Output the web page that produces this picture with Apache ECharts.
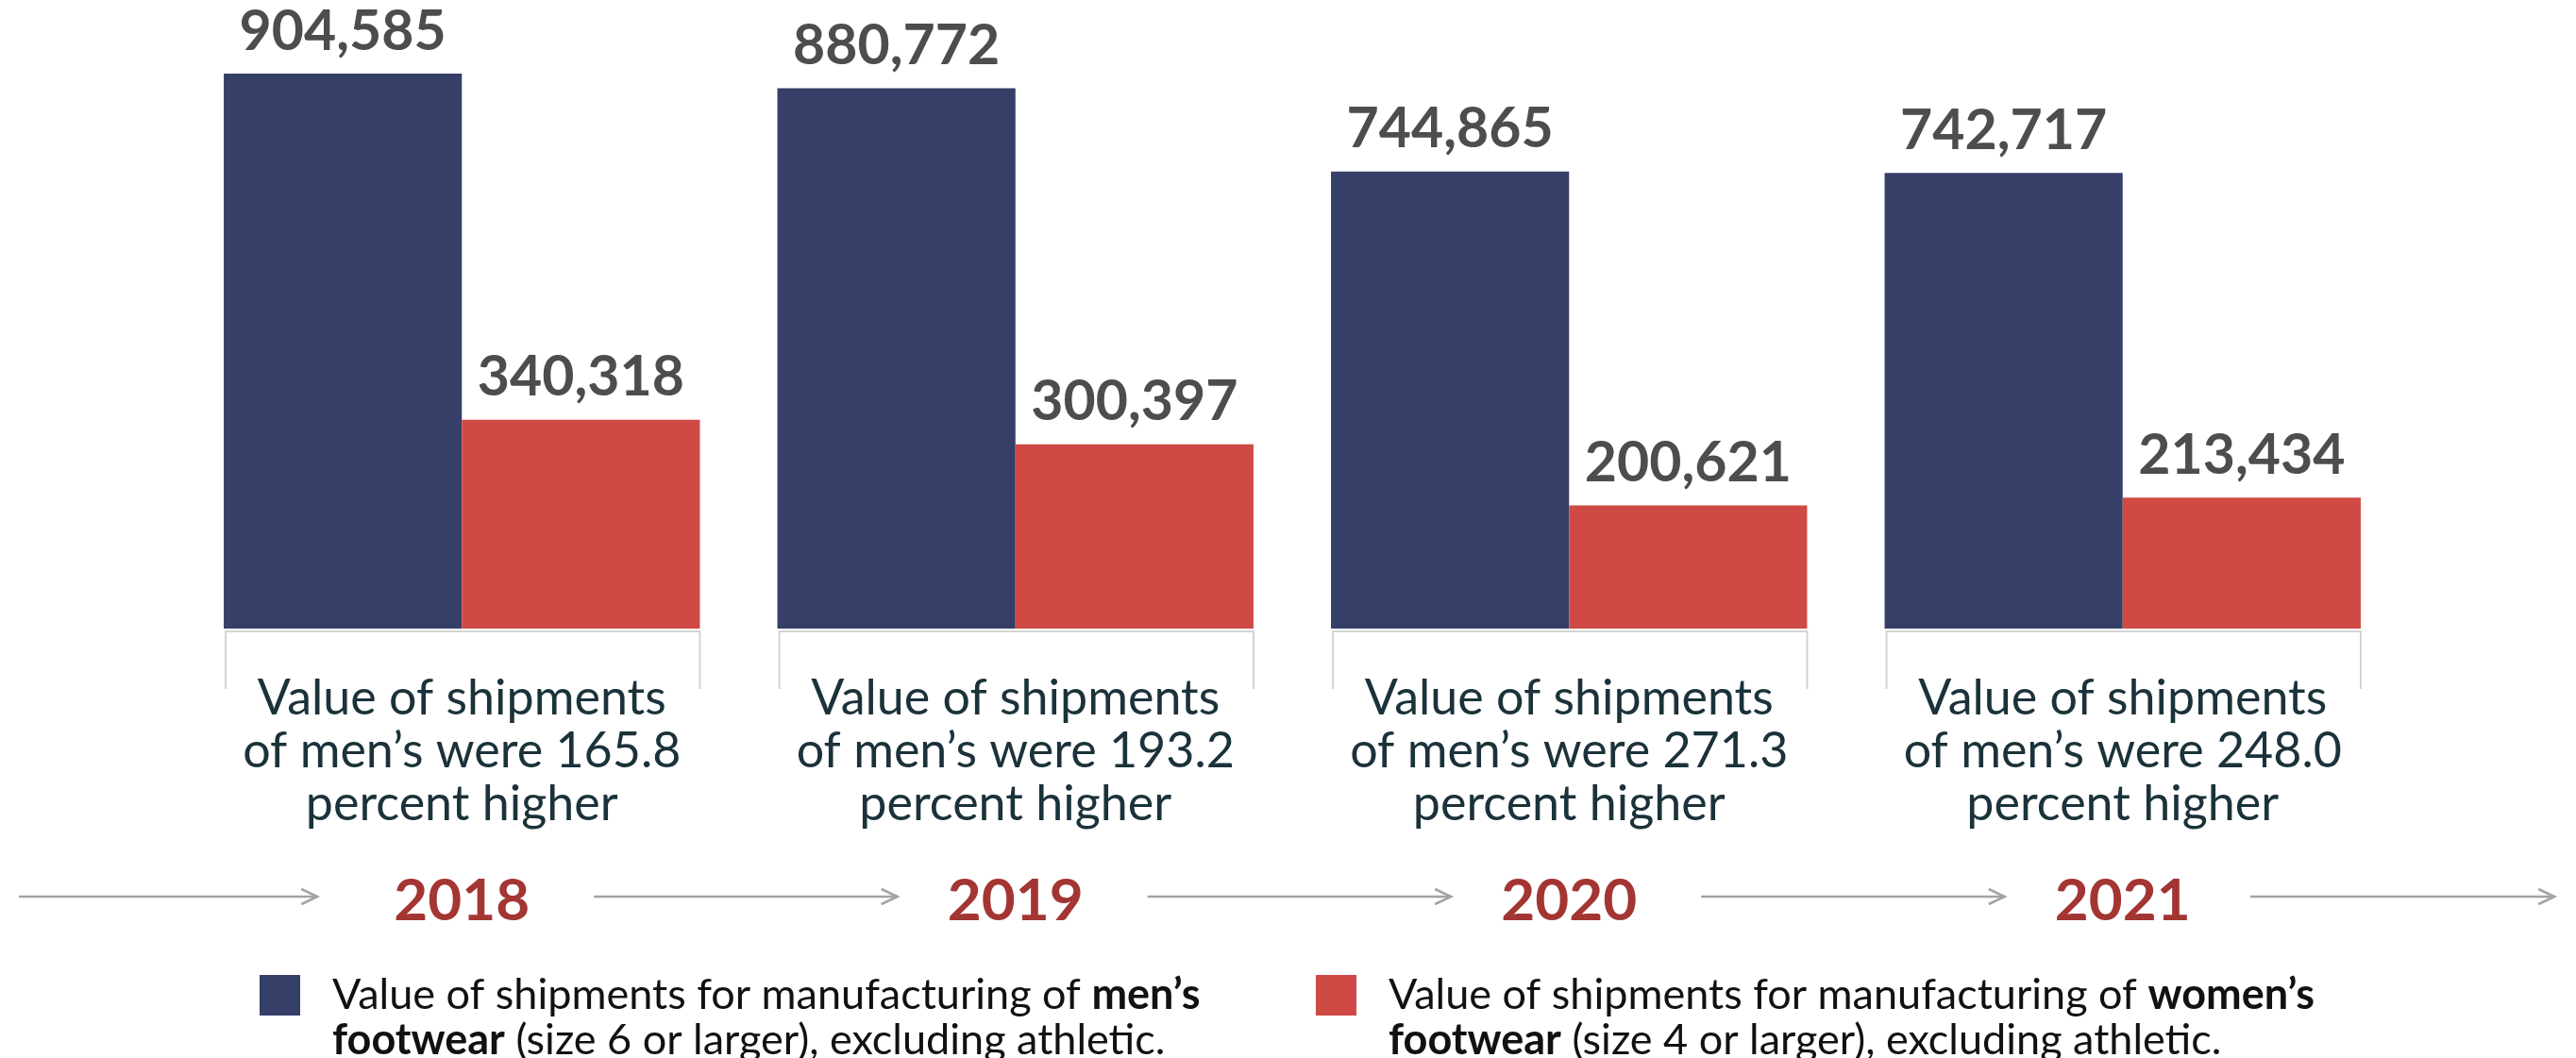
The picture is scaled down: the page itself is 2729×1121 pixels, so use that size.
<!DOCTYPE html>
<html>
<head>
<meta charset="utf-8">
<script src="https://cdn.jsdelivr.net/npm/echarts@6/dist/echarts.min.js"></script>
<style>
  html, body { margin: 0; padding: 0; background: #fff; }
  #main { width: 2729px; height: 1121px; }
</style>
</head>
<body>
<div id="main"></div>
<script>
// data
const years = ['2018', '2019', '2020', '2021']
const mensValues = [904585, 880772, 744865, 742717]
const womensValues = [340318, 300397, 200621, 213434]
const pctHigher = ['165.8', '193.2', '271.3', '248.0']

const navy = '#353f67'
const red = '#cf4a44'
const font = 'Lato'

const notes = pctHigher.map(p => 'Value of shipments\nof men’s were ' + p + '\npercent higher')

function arrow(x0, x1, y) {
  return {
    type: 'group',
    children: [
      { type: 'line', shape: { x1: x0, y1: y, x2: x1, y2: y }, style: { stroke: '#a3a3a3', lineWidth: 2.5 } },
      { type: 'polyline', shape: { points: [[x1 - 17, y - 8], [x1, y], [x1 - 17, y + 8]] }, style: { stroke: '#a3a3a3', lineWidth: 2.5, fill: null } },
    ],
  }
}

// bracket under each pair of bars + timeline arrows
function renderDecor(params, api) {
  const i = api.value(0)
  const p = api.coord([i, 0])
  const band = api.size([1, 0])[0]
  const cx = p[0]
  const base = p[1]
  const half = band * 0.86 / 2
  const ay = base + 284
  const children = [
    {
      type: 'polyline',
      shape: { points: [[cx - half + 2, base + 64], [cx - half + 2, base + 3], [cx + half, base + 3], [cx + half, base + 64]] },
      style: { stroke: '#d4d4d4', lineWidth: 2, fill: null },
    },
  ]
  const x0 = i === 0 ? cx - band * 0.8 : cx - band + 140
  children.push(arrow(x0, i === 0 ? cx - 153 : cx - 125, ay))
  if (i === years.length - 1) children.push(arrow(cx + 135, cx + band * 0.78, ay))
  return { type: 'group', children: children }
}

function legendText(who, size) {
  return '{n|Value of shipments for manufacturing of }{b|' + who + '’s}\n{b|footwear}{n| (size ' + size + ' or larger), excluding athletic.}'
}
const legendRich = {
  n: { fontFamily: font, fontSize: 45, lineHeight: 48, color: '#111' },
  b: { fontFamily: font, fontSize: 45, lineHeight: 48, fontWeight: 'bold', color: '#111' },
}

const valueLabel = {
  show: true,
  position: 'top',
  distance: 15,
  formatter: p => p.value.toLocaleString('en-US'),
  fontFamily: font,
  fontSize: 59,
  fontWeight: 'bold',
  color: '#4d4d4d',
}

const option = {
  animation: false,
  grid: { left: 196, right: 187, top: 16, bottom: 455 },
  xAxis: [
    {
      type: 'category',
      data: years,
      position: 'bottom',
      axisLine: { show: false },
      axisTick: { show: false },
      axisLabel: {
        interval: 0,
        hideOverlap: false,
        margin: 46,
        formatter: (v, i) => notes[i],
        fontFamily: font,
        fontSize: 52,
        lineHeight: 56,
        color: '#1b323a',
      },
    },
    {
      type: 'category',
      data: years,
      position: 'bottom',
      axisLine: { show: false },
      axisTick: { show: false },
      axisLabel: {
        interval: 0,
        margin: 257,
        fontFamily: font,
        fontSize: 62,
        lineHeight: 64,
        fontWeight: 'bold',
        color: '#a33532',
      },
    },
  ],
  yAxis: { type: 'value', min: 0, max: 1000000, show: false },
  legend: [
    {
      data: ['men'],
      left: 275,
      top: 1032,
      padding: 0,
      icon: 'rect',
      itemWidth: 43,
      itemHeight: 43,
      selectedMode: false,
      formatter: () => legendText('men', 6),
      textStyle: { padding: [48, 0, 0, 29], rich: legendRich },
    },
    {
      data: ['women'],
      left: 1394,
      top: 1032,
      padding: 0,
      icon: 'rect',
      itemWidth: 43,
      itemHeight: 43,
      selectedMode: false,
      formatter: () => legendText('women', 4),
      textStyle: { padding: [48, 0, 0, 29], rich: legendRich },
    },
  ],
  series: [
    {
      name: 'men',
      type: 'bar',
      data: mensValues,
      barGap: 0,
      barCategoryGap: '14%',
      itemStyle: { color: navy },
      label: valueLabel,
    },
    {
      name: 'women',
      type: 'bar',
      data: womensValues,
      barGap: 0,
      barCategoryGap: '14%',
      itemStyle: { color: red },
      label: valueLabel,
    },
    {
      type: 'custom',
      renderItem: renderDecor,
      clip: false,
      silent: true,
      data: years.map((y, i) => [i, 0]),
      encode: { x: 0, y: 1 },
      z: 1,
    },
  ],
}

const chart = echarts.init(document.getElementById('main'))
chart.setOption(option)
window.addEventListener('resize', () => chart.resize())
</script>
</body>
</html>
